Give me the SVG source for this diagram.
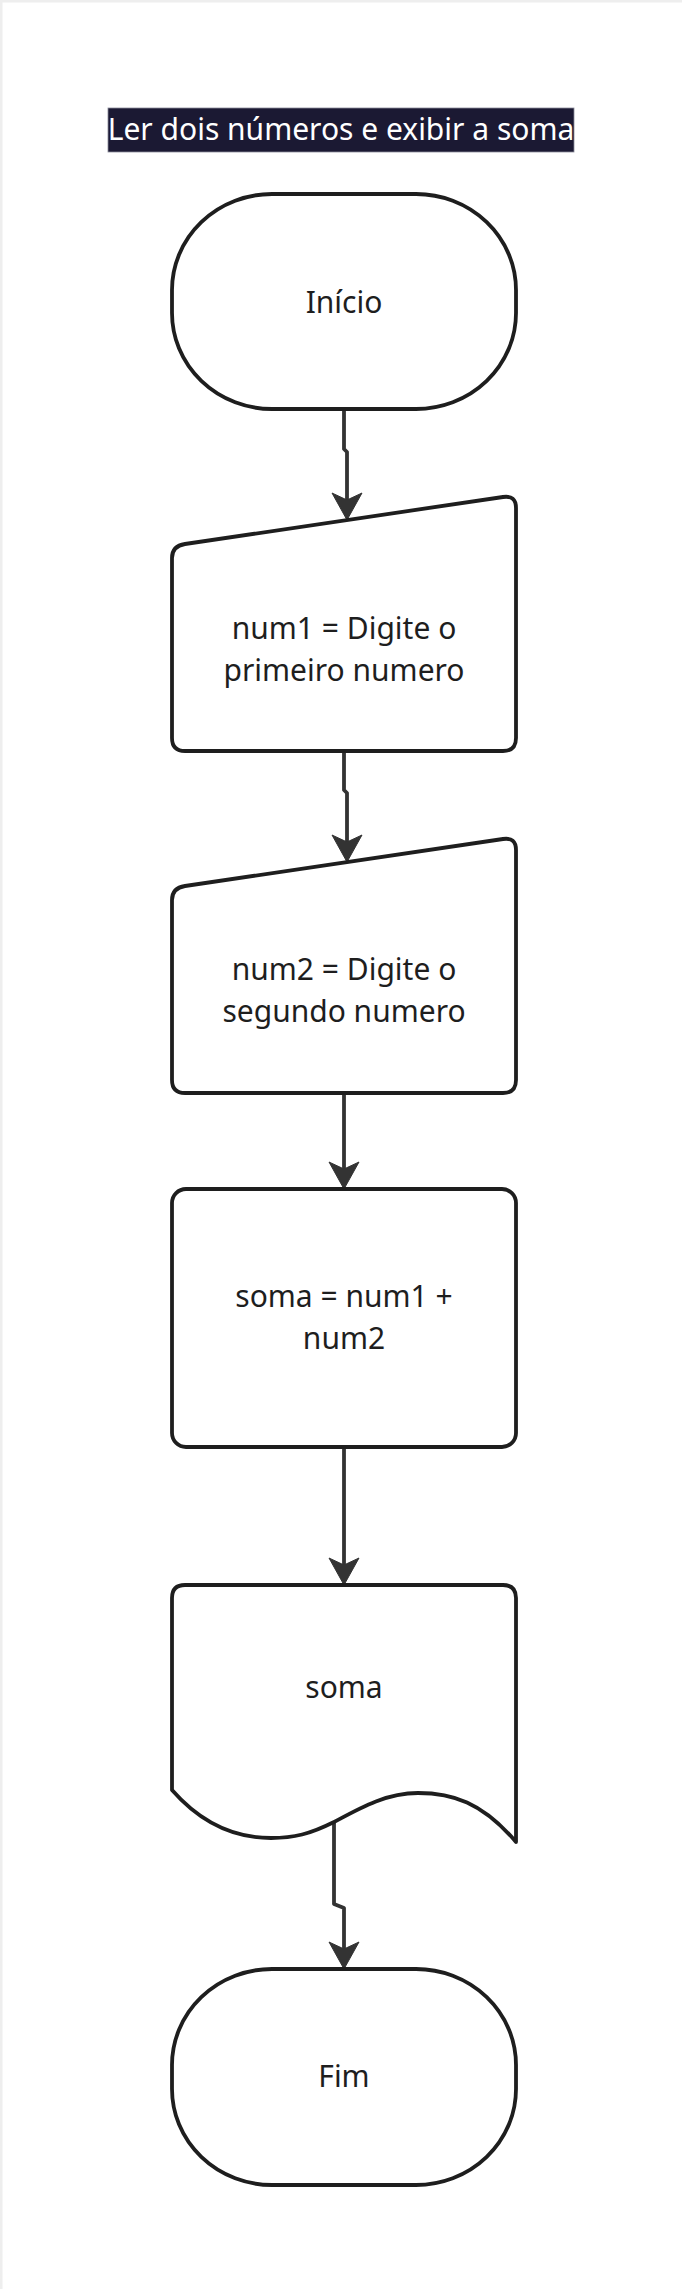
<svg xmlns="http://www.w3.org/2000/svg" xmlns:xlink="http://www.w3.org/1999/xlink" width="682" height="2289" viewBox="0 0 682 2289">
<defs>
<style>
.shape{fill:#ffffff;stroke:#1e1e1e;stroke-width:3.8;stroke-linejoin:round}
.lbl{font-family:"Noto Sans","Open Sans","DejaVu Sans",sans-serif;font-size:30px;fill:#1e1e1e;text-anchor:middle}
.title{font-family:"Noto Sans","Open Sans","DejaVu Sans",sans-serif;font-size:30px;fill:#ffffff;text-anchor:middle}
.conn{fill:none;stroke:#333333;stroke-width:3.8;stroke-linejoin:round}
.head{fill:#333333;stroke:#333333;stroke-width:1;stroke-linejoin:round}
</style>
<path id="ah" d="M0,0 L-15,-27 L0,-20 L15,-27 Z"/>
</defs>
<rect x="0" y="0" width="682" height="2289" fill="#ffffff"/>
<path d="M1,2289 V1 H682" fill="none" stroke="#eeeeee" stroke-width="3"/>

<g id="title">
<rect x="108" y="108" width="466" height="44" fill="#1b1933" stroke="#8a8a99" stroke-width="0.8"/>
<text class="title" x="341" y="140">Ler dois números e exibir a soma</text>
</g>

<g id="connectors">
<path class="conn" d="M344,409 V449 L347,452 V512"/>
<use href="#ah" class="head" x="347" y="520"/>
<path class="conn" d="M344,751 V790 L347,793 V854"/>
<use href="#ah" class="head" x="347" y="862"/>
<path class="conn" d="M344,1093 V1181"/>
<use href="#ah" class="head" x="344" y="1189"/>
<path class="conn" d="M344,1447 V1577"/>
<use href="#ah" class="head" x="344" y="1585"/>
<path class="conn" d="M334,1822 V1904 L344,1908 V1961"/>
<use href="#ah" class="head" x="344" y="1969"/>
</g>

<g id="inicio">
<rect class="shape" x="172" y="194" width="344" height="215" rx="100" ry="96"/>
<text class="lbl" x="344" y="313">Início</text>
</g>

<g id="entrada1">
<path class="shape" d="M185,544 L503,497 Q516,495 516,508 V738 Q516,751 503,751 H185 Q172,751 172,738 V558 Q172,546 185,544 Z"/>
<text class="lbl" x="344" y="639">num1 = Digite o</text>
<text class="lbl" x="344" y="681">primeiro numero</text>
</g>

<g id="entrada2">
<path class="shape" d="M185,886 L503,839 Q516,837 516,850 V1080 Q516,1093 503,1093 H185 Q172,1093 172,1080 V900 Q172,888 185,886 Z"/>
<text class="lbl" x="344" y="980">num2 = Digite o</text>
<text class="lbl" x="344" y="1022">segundo numero</text>
</g>

<g id="processo">
<rect class="shape" x="172" y="1189" width="344" height="258" rx="14" ry="14"/>
<text class="lbl" x="344" y="1307">soma = num1 +</text>
<text class="lbl" x="344" y="1349">num2</text>
</g>

<g id="saida">
<path class="shape" d="M172,1598 Q172,1585 185,1585 H503 Q516,1585 516,1598 V1842 C482,1802 452,1793 418,1793 C386,1793 360,1808 334,1822 C310,1834 294,1838 271,1838 C234,1838 200,1822 172,1790 Z"/>
<text class="lbl" x="344" y="1698">soma</text>
</g>

<g id="fim">
<rect class="shape" x="172" y="1969" width="344" height="216" rx="100" ry="96"/>
<text class="lbl" x="344" y="2087">Fim</text>
</g>
</svg>
